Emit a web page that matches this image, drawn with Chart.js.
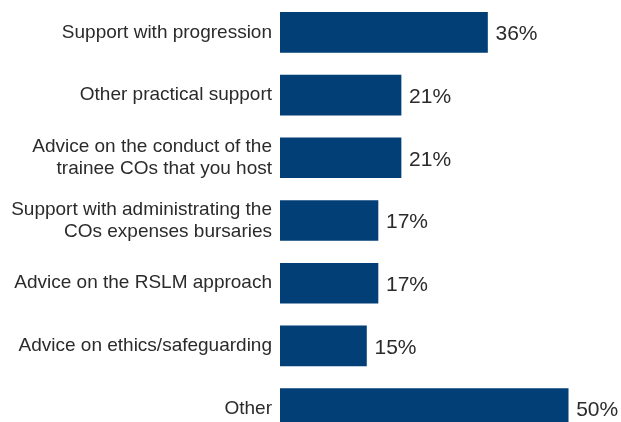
<!DOCTYPE html>
<html lang="en">
<head>
<meta charset="utf-8">
<title>Support requested</title>
<script src="https://cdn.jsdelivr.net/npm/chart.js@4.4.1/dist/chart.umd.min.js"></script>
<style>
  html, body {
    margin: 0;
    padding: 0;
    background: #ffffff;
    overflow: hidden;
  }
  .chart-wrap {
    width: 621px;
    height: 422px;
    overflow: hidden;
  }
</style>
</head>
<body>
<div class="chart-wrap">
  <canvas id="supportChart" width="621" height="440"></canvas>
</div>
<script>
// ============================================================
// Data
// ============================================================

const categories = [
  'Support with progression',
  'Other practical support',
  ['Advice on the conduct of the', 'trainee COs that you host'],
  ['Support with administrating the', 'COs expenses bursaries'],
  'Advice on the RSLM approach',
  'Advice on ethics/safeguarding',
  'Other'
];

const percentages = [36, 21, 21, 17, 17, 15, 50];

// ============================================================
// Styles
// ============================================================

const BAR_COLOR = '#023f76';
const TEXT_COLOR = '#2b2b2b';
const FONT_FAMILY = '"Liberation Sans", Arial, Helvetica, sans-serif';
const FONT_SIZE = 19;
const VALUE_FONT_SIZE = 21;

/**
 * Writes "NN%" to the right of every bar
 */
const valueLabels = {
  id: 'valueLabels',
  afterDatasetsDraw(chart) {
    const { ctx } = chart;
    const meta = chart.getDatasetMeta(0);
    const values = chart.data.datasets[0].data;

    ctx.save();
    ctx.font = `${VALUE_FONT_SIZE}px ${FONT_FAMILY}`;
    ctx.fillStyle = TEXT_COLOR;
    ctx.textAlign = 'left';
    ctx.textBaseline = 'middle';
    meta.data.forEach((bar, i) => {
      ctx.fillText(values[i] + '%', bar.x + 8, bar.y + 2);
    });
    ctx.restore();
  }
};

// ============================================================
// Chart
// ============================================================

const ctx = document.getElementById('supportChart').getContext('2d');

const supportChart = new Chart(ctx, {
  type: 'bar',
  data: {
    labels: categories,
    datasets: [{
      data: percentages,
      backgroundColor: BAR_COLOR,
      borderWidth: 0,
      barThickness: 40
    }]
  },
  options: {
    indexAxis: 'y',
    responsive: false,
    animation: false,
    devicePixelRatio: 1,
    layout: {
      padding: { top: 1, right: 24, bottom: 0, left: 0 }
    },
    scales: {
      x: {
        display: false,
        min: 0,
        max: 55
      },
      y: {
        // fixed label column, and no extra room above/below the bars
        afterFit(scale) {
          scale.width = 280;
          scale.paddingTop = 0;
          scale.paddingBottom = 0;
        },
        border: { display: false },
        grid: { display: false, drawTicks: false },
        ticks: {
          padding: 8,
          color: TEXT_COLOR,
          font: { family: FONT_FAMILY, size: FONT_SIZE, lineHeight: 1.15 }
        }
      }
    },
    plugins: {
      legend: { display: false },
      tooltip: { enabled: false }
    }
  },
  plugins: [valueLabels]
});
</script>
</body>
</html>
